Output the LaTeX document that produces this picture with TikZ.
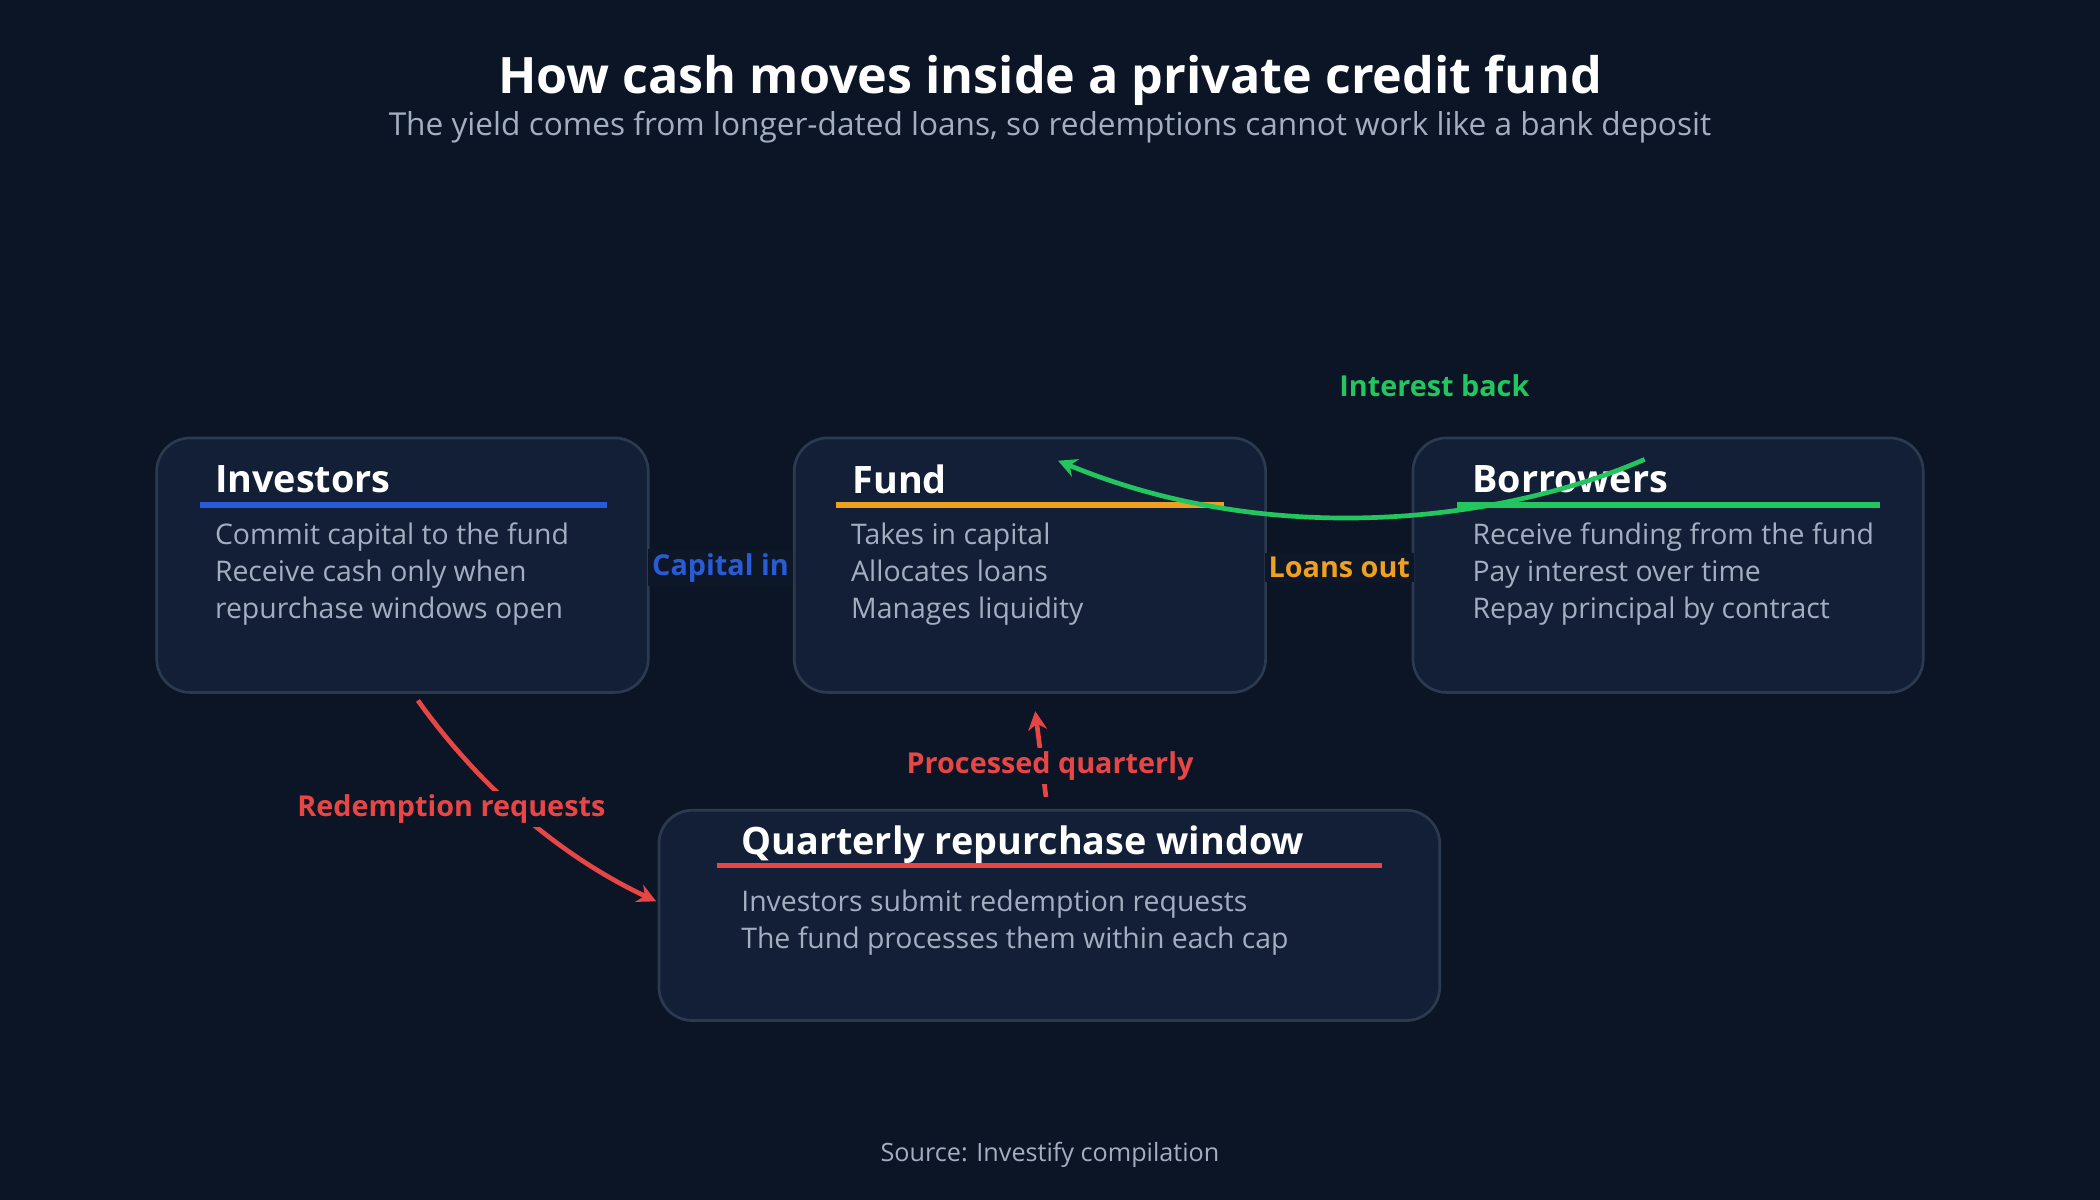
\documentclass[tikz,border=0pt]{standalone}
\usepackage{fontspec}
\setmainfont{Open Sans}
\usetikzlibrary{arrows.meta}
\definecolor{bg}{HTML}{0B1526}
\definecolor{lbg}{HTML}{0D1727}
\definecolor{boxf}{HTML}{131F36}
\definecolor{boxd}{HTML}{2C3A50}
\definecolor{txt}{HTML}{A3AEC0}
\definecolor{cblue}{HTML}{2A5BD7}
\definecolor{corange}{HTML}{F0A020}
\definecolor{cgreen}{HTML}{22C55E}
\definecolor{cred}{HTML}{E84545}
\begin{document}
\begin{tikzpicture}[x=1pt,y=-1pt,
 box/.style={draw=boxd,line width=2pt,fill=boxf,rounded corners=25pt},
 head/.style={anchor=west,text=white,font=\fontsize{28.2}{30}\selectfont\bfseries},
 body/.style={anchor=north west,text=txt,font=\fontsize{21.2}{27.5}\selectfont,align=left},
 lab/.style={font=\fontsize{21.5}{24}\selectfont\bfseries,fill=lbg,inner sep=3pt},
 arr/.style={line width=3.5pt,-{Stealth[length=14pt,width=14pt]}}]
\fill[bg] (0,0) rectangle (1568,896);
\node[text=white,font=\fontsize{37.5}{40}\selectfont\bfseries] (title) at (784,60) {How cash moves inside a private credit fund};
\node[text=txt,font=\fontsize{23.6}{26}\selectfont] (sub) at (784,95) {The yield comes from longer-dated loans, so redemptions cannot work like a bank deposit};
\node[text=txt,font=\fontsize{18.8}{22}\selectfont] (src) at (784,862) {Source: Investify compilation};
% boxes
\draw[box] (117,327) rectangle (484,517);
\draw[box] (593,327) rectangle (945,517);
\draw[box] (1055,327) rectangle (1436,517);
\draw[box] (492,605) rectangle (1075,762);
\draw[cblue,line width=4pt] (149,377) -- (453,377);
\draw[corange,line width=4pt] (624,377) -- (914,377);
\draw[cgreen,line width=4pt] (1088,377) -- (1404,377);
\draw[cred,line width=4pt] (535,646) -- (1032,646);
\node[head] (hi) at (157,358) {Investors};
\node[head] (hf) at (633,358) {Fund};
\node[head] (hb) at (1096,358) {Borrowers};
\node[head] (hq) at (550,631) {Quarterly repurchase window};
\node[body] (bi) at (157,387) {Commit capital to the fund\\Receive cash only when\\repurchase windows open};
\node[body] (bf) at (632,387) {Takes in capital\\Allocates loans\\Manages liquidity};
\node[body] (bb) at (1096,387) {Receive funding from the fund\\Pay interest over time\\Repay principal by contract};
\node[body] (bq) at (550,661) {Investors submit redemption requests\\The fund processes them within each cap};
% labels
\node[lab,text=cblue] (cap) at (538,424) {Capital in};
\node[lab,text=corange] (loan) at (1000,424) {Loans out};
% arrows
\coordinate (g1) at (1228,343); \coordinate (g2) at (790,344);
\draw[arr,cgreen] (g1) .. controls (1120,390) and (950,410) .. (g2);
\node[font=\fontsize{21.5}{24}\selectfont\bfseries,text=cgreen] (ib) at (1071,288) {Interest back};
\coordinate (r1) at (312,523); \coordinate (r2) at (490,673);
\draw[arr,cred] (r1) .. controls (360,590) and (420,640) .. (r2);
\node[lab,text=cred,fill=bg] (rr) at (337,604) {Redemption requests};
\coordinate (p1) at (781,595); \coordinate (p2) at (773,531);
\draw[arr,cred] (p1) -- (p2);
\node[lab,text=cred,fill=bg] (pq) at (784,572) {Processed quarterly};
\end{tikzpicture}
\end{document}
